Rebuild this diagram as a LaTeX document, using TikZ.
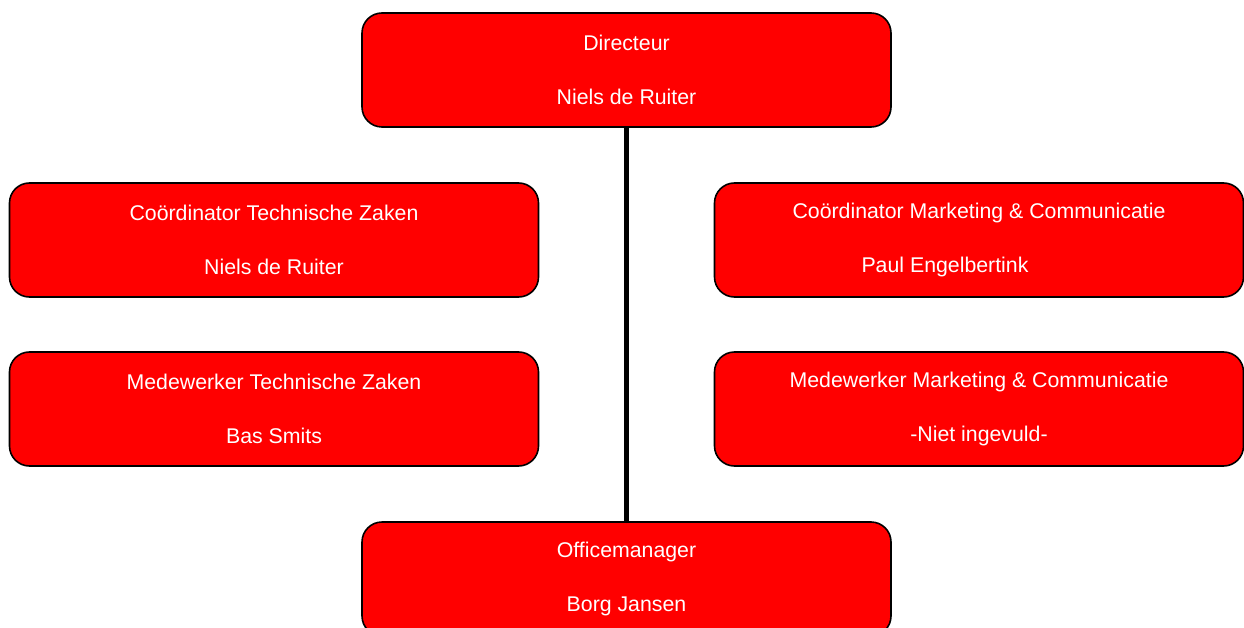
\documentclass[tikz,border=0pt]{standalone}
\usepackage{fontspec}
\setmainfont{Liberation Sans}
\definecolor{boxred}{HTML}{FF0000}
\begin{document}
\begin{tikzpicture}[x=1pt,y=-1pt,
  orgbox/.style={draw=black, line width=1.6pt, fill=boxred, rounded corners=20pt,
    minimum width=529pt, minimum height=114pt, inner sep=0pt, text=white,
    align=center, font=\fontsize{21.3}{54}\selectfont},
  link/.style={line width=5pt, draw=black}]
\clip (0,0) rectangle (1244,628);
\fill[white] (0,0) rectangle (1244,628);
\node[orgbox] (dir) at (626.5,70) {Directeur\\Niels de Ruiter};
\node[orgbox] (ct) at (274,240) {Coördinator Technische Zaken\\Niels de Ruiter};
\node[orgbox] (cm) at (979,240) {Coördinator Marketing \& Communicatie\\Paul Engelbertink\hspace*{68pt}};
\node[orgbox] (mt) at (274,409) {Medewerker Technische Zaken\\Bas Smits};
\node[orgbox] (mm) at (979,409) {Medewerker Marketing \& Communicatie\\-Niet ingevuld-};
\node[orgbox] (om) at (626.5,579) {Officemanager\\Borg Jansen};
\draw[link] (dir.south) -- (om.north);
\end{tikzpicture}
\end{document}
